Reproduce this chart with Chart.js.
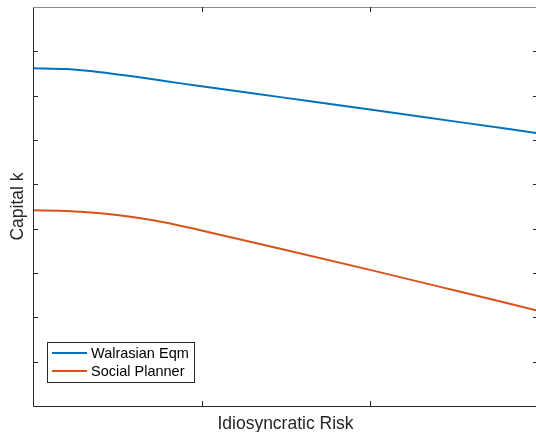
<!DOCTYPE html>
<html><head><meta charset="utf-8">
<script src="https://cdn.jsdelivr.net/npm/chart.js@4.4.1/dist/chart.umd.min.js"></script>
<style>html,body{margin:0;padding:0;background:#fff;}#wrap{width:536px;height:432px;}</style>
</head><body><div id="wrap"><canvas id="c" width="536" height="432"></canvas></div>
<script>
const xValues = [0, 0.2, 0.4, 0.6, 0.8, 1.0, 1.5, 2.0, 2.5, 2.985];
const walrasian = [7.62, 7.60, 7.53, 7.43, 7.32, 7.21, 6.95, 6.69, 6.42, 6.16];
const planner = [4.415, 4.40, 4.35, 4.26, 4.13, 3.96, 3.52, 3.07, 2.61, 2.16];
const seriesNames = ['Walrasian Eqm', 'Social Planner'];
const xTicks = [0, 1, 2];
const yTicks = [1, 2, 3, 4, 5, 6, 7, 8];
const xTitle = 'Idiosyncratic Risk';
const yTitle = 'Capital k';

const FONT = '"Liberation Sans", Arial, Helvetica, sans-serif';

const decor = {
  id: 'decor',
  afterDraw(chart) {
    const ctx = chart.ctx, a = chart.chartArea;
    const xs = chart.scales.x, ys = chart.scales.y;
    ctx.save();
    ctx.strokeStyle = '#262626';
    ctx.lineWidth = 1;
    ctx.beginPath();
    ctx.moveTo(a.left + 0.5, a.top);
    ctx.lineTo(a.left + 0.5, a.bottom + 0.5);
    ctx.lineTo(a.right + 1, a.bottom + 0.5);
    ctx.stroke();
    ctx.strokeStyle = '#8a8a8a';
    ctx.beginPath();
    ctx.moveTo(a.left, a.top + 0.5);
    ctx.lineTo(a.right + 1, a.top + 0.5);
    ctx.stroke();
    ctx.strokeStyle = '#262626';
    ctx.beginPath();
    yTicks.forEach(v => {
      const y = Math.round(ys.getPixelForValue(v)) + 0.5;
      ctx.moveTo(a.left, y); ctx.lineTo(a.left + 5, y);
      ctx.moveTo(a.right - 3, y); ctx.lineTo(a.right, y);
    });
    xTicks.forEach(v => {
      if (v === 0) return;
      const x = Math.round(xs.getPixelForValue(v)) + 0.5;
      ctx.moveTo(x, a.bottom); ctx.lineTo(x, a.bottom - 5);
      ctx.moveTo(x, a.top); ctx.lineTo(x, a.top + 5);
    });
    ctx.stroke();
    ctx.fillStyle = '#262626';
    ctx.font = '17.5px ' + FONT;
    ctx.textAlign = 'center';
    ctx.textBaseline = 'alphabetic';
    ctx.fillText(xTitle, (a.left + 538) / 2, 429);
    ctx.save();
    ctx.translate(23, (a.top + a.bottom) / 2);
    ctx.rotate(-Math.PI / 2);
    ctx.fillText(yTitle, 0, 0);
    ctx.restore();
    const bx = 47.5, by = 342.5, bw = 147, bh = 40;
    ctx.fillStyle = '#ffffff';
    ctx.fillRect(bx, by, bw, bh);
    ctx.strokeStyle = '#262626';
    ctx.lineWidth = 1;
    ctx.strokeRect(bx, by, bw, bh);
    ctx.font = '14.5px ' + FONT;
    ctx.textAlign = 'left';
    ctx.textBaseline = 'middle';
    const rows = [353, 371];
    chart.data.datasets.forEach((ds, i) => {
      ctx.strokeStyle = ds.borderColor;
      ctx.lineWidth = 2;
      ctx.beginPath();
      ctx.moveTo(52, rows[i]); ctx.lineTo(87, rows[i]);
      ctx.stroke();
      ctx.fillStyle = '#000';
      ctx.fillText(ds.label, 91, rows[i] + 1);
    });
    ctx.restore();
  }
};

new Chart(document.getElementById('c'), {
  type: 'line',
  data: {
    datasets: [
      { label: seriesNames[0], data: xValues.map((x, i) => ({x, y: walrasian[i]})), borderColor: '#0072BD', borderWidth: 2, pointRadius: 0, cubicInterpolationMode: 'monotone', fill: false },
      { label: seriesNames[1], data: xValues.map((x, i) => ({x, y: planner[i]})), borderColor: '#D95319', borderWidth: 2, pointRadius: 0, cubicInterpolationMode: 'monotone', fill: false }
    ]
  },
  options: {
    responsive: false,
    animation: false,
    events: [],
    layout: { padding: { left: 33, top: 7, right: 0, bottom: 26 } },
    plugins: { legend: { display: false }, tooltip: { enabled: false } },
    scales: {
      x: { type: 'linear', min: 0, max: 2.985, display: false },
      y: { type: 'linear', min: 0, max: 9, display: false }
    }
  },
  plugins: [decor]
});
</script>
</body></html>
